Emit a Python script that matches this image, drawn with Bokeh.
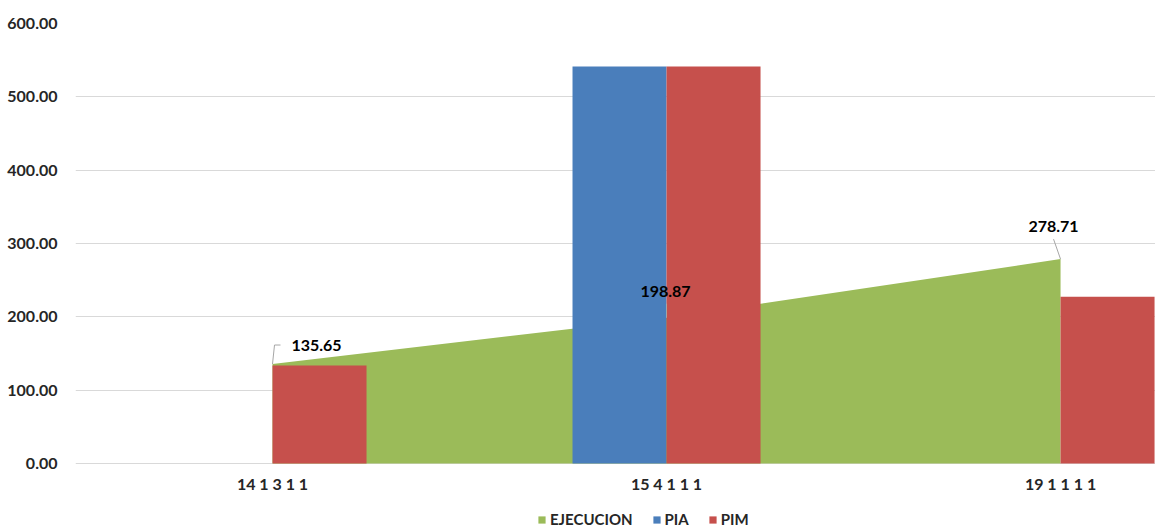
from bokeh.plotting import figure
from bokeh.models import (ColumnDataSource, FixedTicker, Label, Legend, LegendItem,
                          NumeralTickFormatter, Range1d)
from bokeh.core.properties import value
from bokeh.embed import file_html
from bokeh.resources import INLINE

# Budget lines (category codes) and amounts
categories = ["14 1 3 1 1", "15 4 1 1 1", "19 1 1 1 1"]
ejecucion = [135.65, 198.87, 278.71]
pia = [0.0, 541.5, 0.0]
pim = [133.5, 541.5, 227.5]
y_ticks = [0, 100, 200, 300, 400, 500, 600]

GREEN = "#9BBB59"
BLUE = "#4A7EBB"
RED = "#C6504C"
TEXT = "#262626"
FONT = "Lato"

xs = list(range(len(categories)))
bar_w = 0.2386

# pixel scale of the plot frame (used for label/leader offsets)
px_x = 394.0
px_y = 440.0 / 600.0

# the frame runs down to the bottom edge so category labels and legend sit inside it
p = figure(width=1155, height=530, x_range=Range1d(-0.5, 2.241),
           y_range=Range1d(-67 / px_y, 600),
           output_backend="svg", toolbar_location=None,
           min_border_left=75, min_border_right=0, min_border_top=23, min_border_bottom=0)
p.outline_line_color = None
p.background_fill_color = "white"
p.border_fill_color = "white"

# Execution as a filled area behind the bars
area = p.varea(x=xs, y1=[0] * len(xs), y2=ejecucion, fill_color=GREEN)

bar_src = ColumnDataSource(dict(
    x_pia=[x - bar_w / 2 for x in xs],
    x_pim=[x + bar_w / 2 for x in xs],
    pia=pia, pim=pim))
r_pia = p.vbar(x="x_pia", top="pia", width=bar_w, source=bar_src, fill_color=BLUE, line_color=None)
r_pim = p.vbar(x="x_pim", top="pim", width=bar_w, source=bar_src, fill_color=RED, line_color=None)

# Axes and grid
p.xaxis.visible = False
p.xgrid.visible = False
p.ygrid.ticker = FixedTicker(ticks=y_ticks)
p.ygrid.grid_line_color = "#D9D9D9"
p.ygrid.grid_line_width = 1

p.yaxis.ticker = FixedTicker(ticks=y_ticks)
p.yaxis.formatter = NumeralTickFormatter(format="0.00")
p.yaxis.axis_line_color = None
p.yaxis.major_tick_line_color = None
p.yaxis.minor_tick_line_color = None
p.yaxis.major_label_standoff = 12
p.yaxis.major_label_text_font = FONT
p.yaxis.major_label_text_font_style = "bold"
p.yaxis.major_label_text_font_size = "16px"
p.yaxis.major_label_text_color = TEXT

# Category labels under the baseline
p.text(x=xs, y=[0] * len(xs), text=categories, y_offset=20,
       text_align="center", text_baseline="middle",
       text_font=value(FONT), text_font_style="bold", text_font_size="16px",
       text_color=TEXT)

# Data labels for execution, with leader lines (offsets in screen pixels)
label_offsets = [(44, 19), (-1, 26), (-7, 33)]
leader_paths = [[(0, 0), (2, 19), (8, 19)], [(0, 0), (0, 14)], [(0, 0), (-7, 20)]]
for x, v, (dx, dy), path in zip(xs, ejecucion, label_offsets, leader_paths):
    p.line(x=[x + a / px_x for a, _ in path], y=[v + b / px_y for _, b in path],
           line_color="#A6A6A6", line_width=1)
    p.add_layout(Label(x=x, y=v, x_offset=dx, y_offset=dy, text=f"{v:.2f}",
                       text_align="center", text_baseline="middle",
                       text_font=FONT, text_font_style="bold", text_font_size="16px",
                       text_color="black"))

legend = Legend(items=[LegendItem(label="EJECUCION", renderers=[area]),
                       LegendItem(label="PIA", renderers=[r_pia]),
                       LegendItem(label="PIM", renderers=[r_pim])],
                orientation="horizontal", location=(462, 2),
                glyph_width=9, glyph_height=9, label_standoff=4, spacing=19,
                padding=0, margin=0, label_height=14,
                border_line_color=None, background_fill_alpha=0,
                label_text_font=FONT, label_text_font_style="bold",
                label_text_font_size="15px", label_text_color=TEXT)
p.add_layout(legend, "center")

open("out.html", "w").write(file_html(p, INLINE))
